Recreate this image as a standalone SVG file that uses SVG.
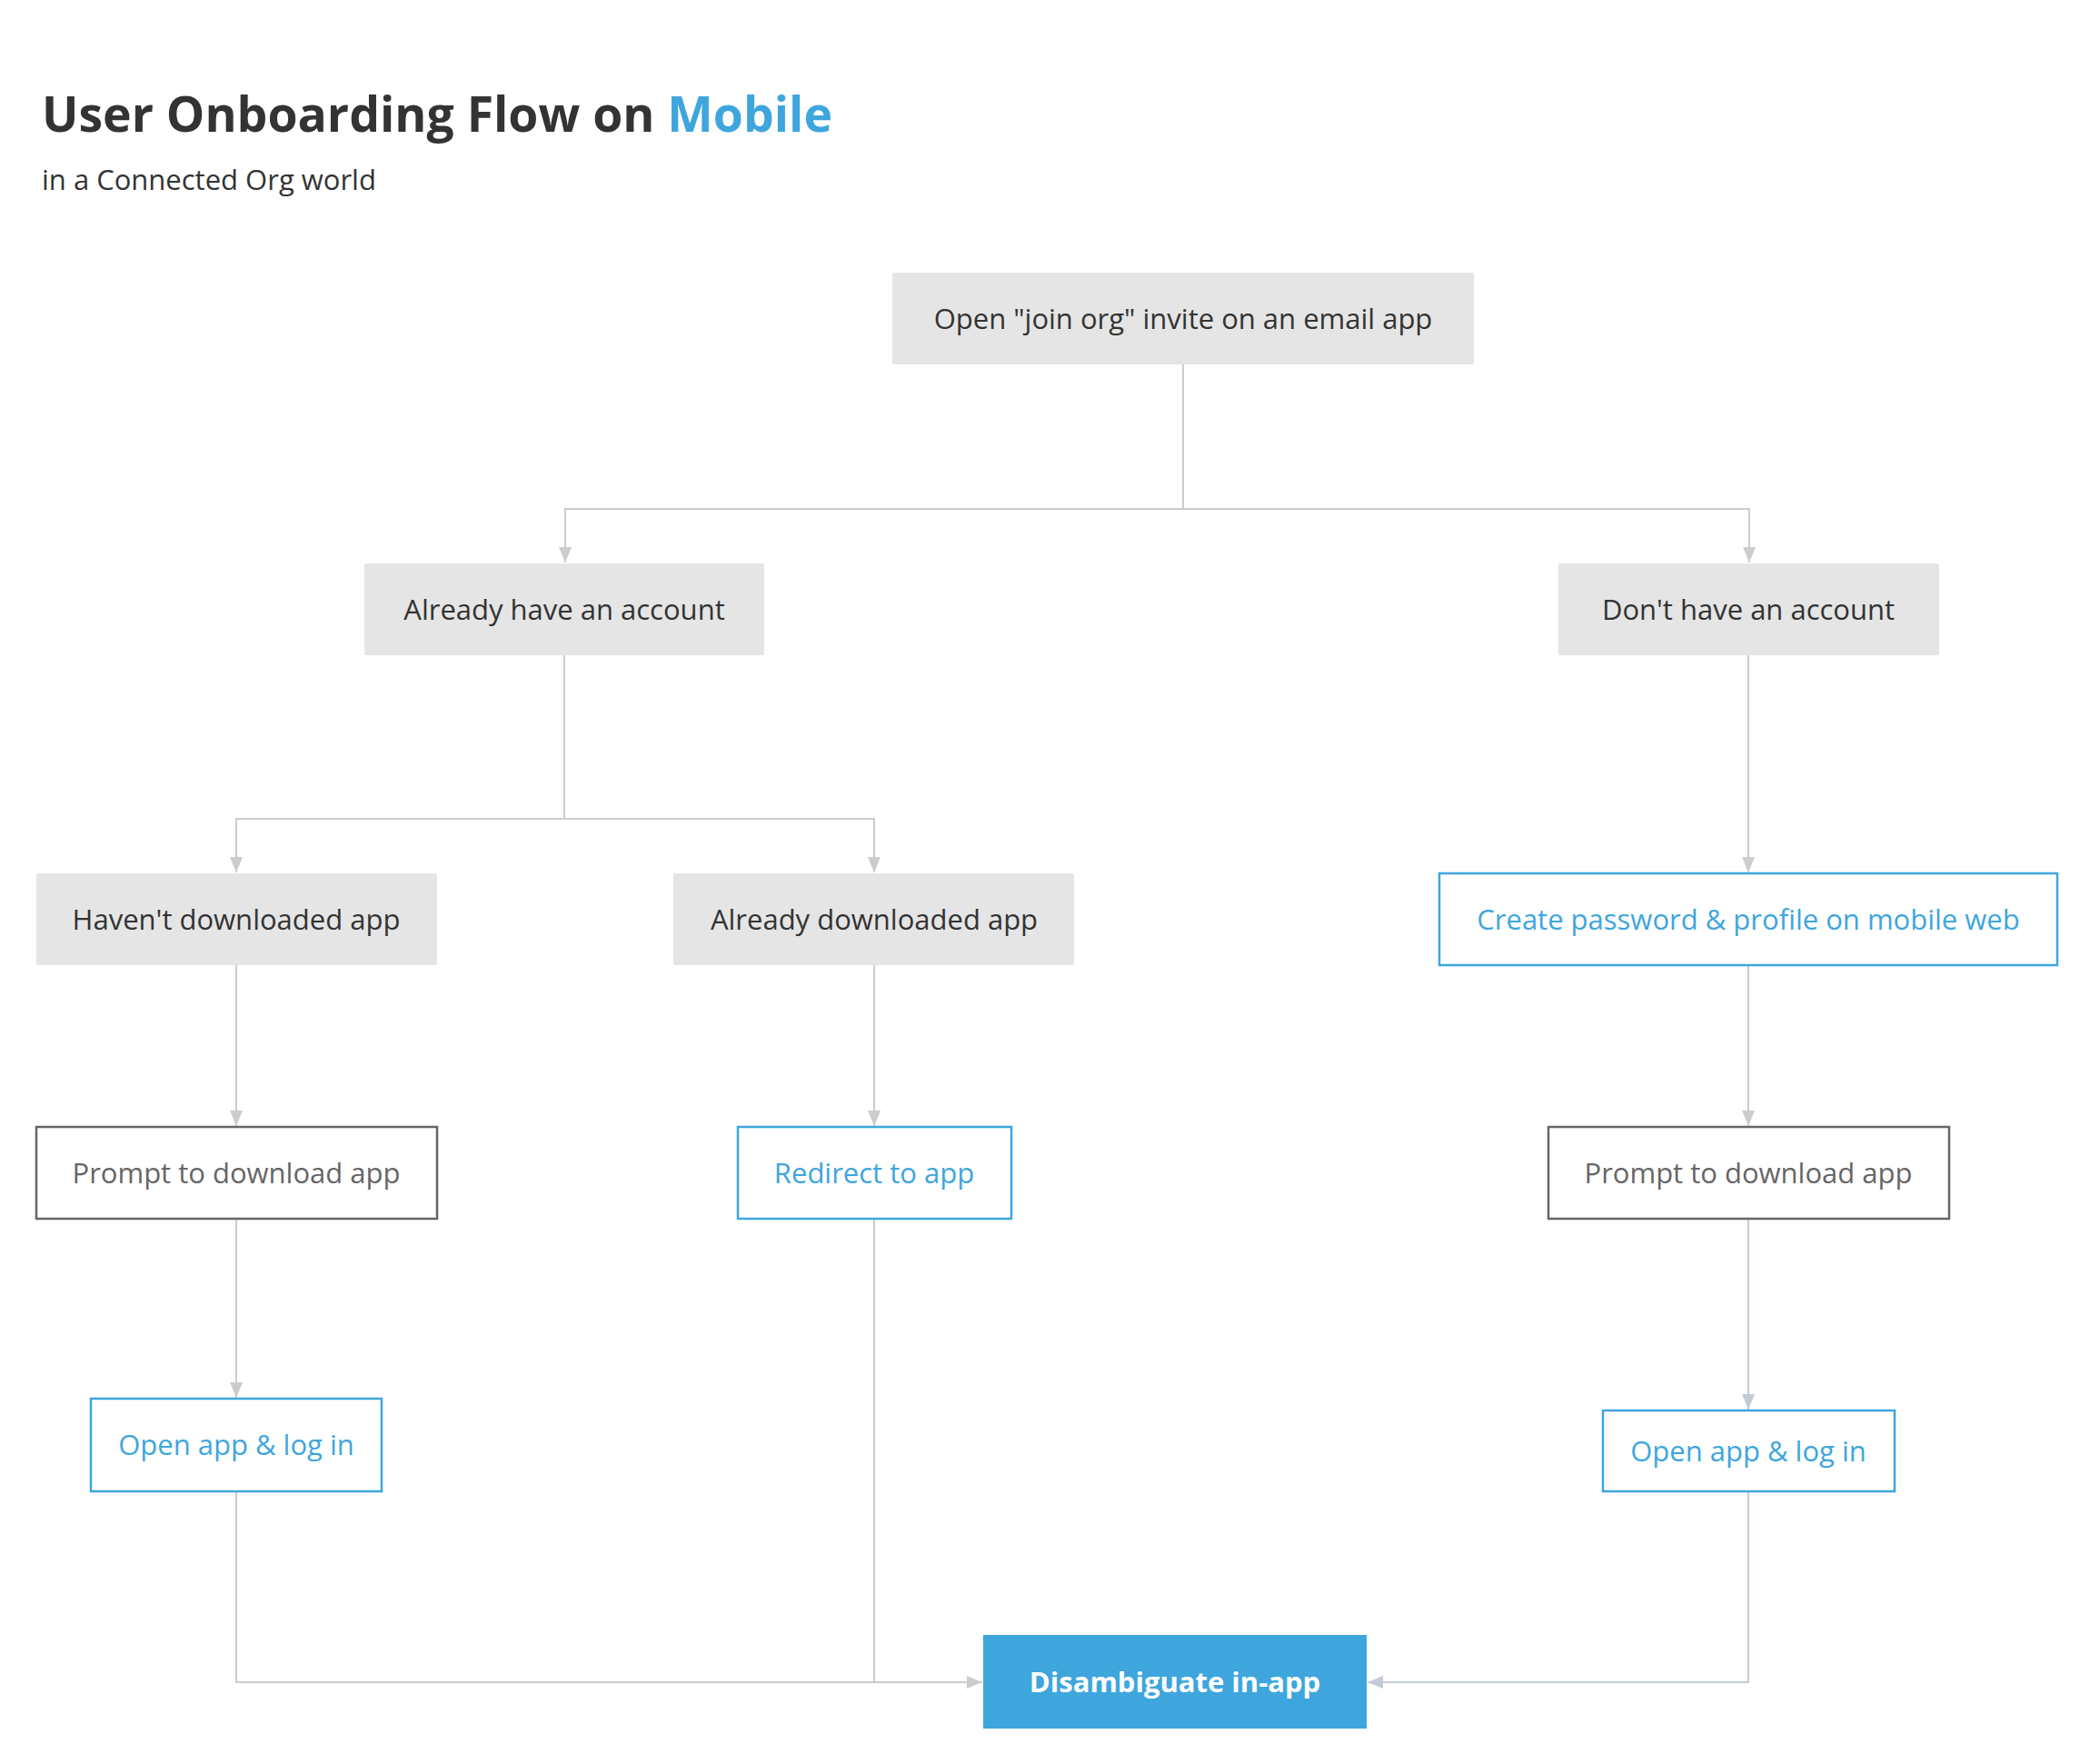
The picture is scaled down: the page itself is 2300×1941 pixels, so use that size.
<svg xmlns="http://www.w3.org/2000/svg" width="2300" height="1941" viewBox="0 0 2300 1941">
<style>
text{font-family:"Open Sans","Noto Sans","Liberation Sans",sans-serif;}
.t{font-size:31px;text-anchor:middle;}
.g rect{fill:#e5e5e5;}
.g text{fill:#333333;}
.b rect{fill:#ffffff;stroke:#3ea6dd;stroke-width:2.5;}
.b text{fill:#3ea6dd;}
.p rect{fill:#ffffff;stroke:#666666;stroke-width:2.5;}
.p text{fill:#666666;}
.c{fill:none;stroke:#cccccc;stroke-width:2;}
.cb{fill:none;stroke:#c3cbd8;stroke-width:2;}
</style>
<defs>
<marker id="ag" markerUnits="userSpaceOnUse" markerWidth="18" markerHeight="14" refX="17" refY="7" orient="auto">
<path d="M0,0 L17,7 L0,14 z" fill="#cccccc"/>
</marker>
<marker id="ab" markerUnits="userSpaceOnUse" markerWidth="18" markerHeight="14" refX="17" refY="7" orient="auto">
<path d="M0,0 L17,7 L0,14 z" fill="#c3cbd8"/>
</marker>
</defs>
<rect width="2300" height="1941" fill="#ffffff"/>
<g id="title">
<text x="46" y="145" style="font-size:53.5px;font-weight:700;" fill="#333333">User Onboarding Flow on <tspan fill="#3ea6dd">Mobile</tspan></text>
<text x="46" y="209" style="font-size:31px;" fill="#333333">in a Connected Org world</text>
</g>
<g id="connectors">
<path class="c" d="M1302,401 V560 H622 V619" marker-end="url(#ag)"/>
<path class="c" d="M1302,560 H1925 V619" marker-end="url(#ag)"/>
<path class="c" d="M621,721 V901 H260 V960" marker-end="url(#ag)"/>
<path class="c" d="M621,901 H962 V960" marker-end="url(#ag)"/>
<path class="c" d="M1924,721 V960" marker-end="url(#ag)"/>
<path class="c" d="M260,1062 V1239" marker-end="url(#ag)"/>
<path class="c" d="M962,1062 V1239" marker-end="url(#ag)"/>
<path class="c" d="M1924,1062 V1239" marker-end="url(#ag)"/>
<path class="c" d="M260,1341 V1538" marker-end="url(#ag)"/>
<path class="cb" d="M1924,1341 V1551" marker-end="url(#ab)"/>
<path class="c" d="M260,1641 V1851 H1081" marker-end="url(#ag)"/>
<path class="c" d="M962,1341 V1851"/>
<path class="cb" d="M1924,1641 V1851 H1505" marker-end="url(#ab)"/>
</g>
<g id="n-invite" class="g"><rect x="982" y="300" width="640" height="101" rx="2"/><text class="t" x="1302" y="362">Open "join org" invite on an email app</text></g>
<g id="n-have" class="g"><rect x="401" y="620" width="440" height="101" rx="2"/><text class="t" x="621" y="682">Already have an account</text></g>
<g id="n-donthave" class="g"><rect x="1715" y="620" width="419" height="101" rx="2"/><text class="t" x="1924" y="682">Don't have an account</text></g>
<g id="n-havent-dl" class="g"><rect x="40" y="961" width="441" height="101" rx="2"/><text class="t" x="260" y="1023">Haven't downloaded app</text></g>
<g id="n-already-dl" class="g"><rect x="741" y="961" width="441" height="101" rx="2"/><text class="t" x="962" y="1023">Already downloaded app</text></g>
<g id="n-create" class="b"><rect x="1584" y="961" width="680" height="101"/><text class="t" x="1924" y="1023">Create password &amp; profile on mobile web</text></g>
<g id="n-prompt-left" class="p"><rect x="40" y="1240" width="441" height="101"/><text class="t" x="260" y="1302">Prompt to download app</text></g>
<g id="n-redirect" class="b"><rect x="812" y="1240" width="301" height="101"/><text class="t" x="962" y="1302">Redirect to app</text></g>
<g id="n-prompt-right" class="p"><rect x="1704" y="1240" width="441" height="101"/><text class="t" x="1924" y="1302">Prompt to download app</text></g>
<g id="n-open-left" class="b"><rect x="100" y="1539" width="320" height="102"/><text class="t" x="260" y="1601">Open app &amp; log in</text></g>
<g id="n-open-right" class="b"><rect x="1764" y="1552" width="321" height="89"/><text class="t" x="1924" y="1608">Open app &amp; log in</text></g>
<g id="n-disambiguate"><rect x="1082" y="1799" width="422" height="103" fill="#3ea6dd"/><text class="t" x="1293" y="1862" style="font-weight:700;" fill="#ffffff">Disambiguate in-app</text></g>
</svg>
